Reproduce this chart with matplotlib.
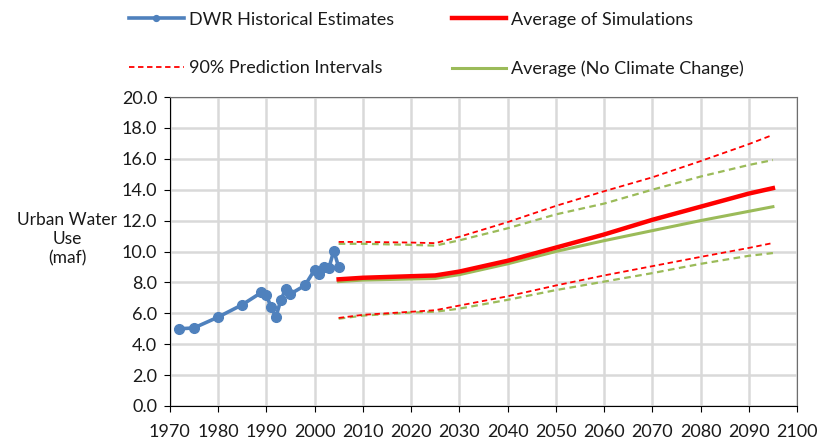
import matplotlib
matplotlib.use("Agg")
import matplotlib.pyplot as plt

# DWR historical estimates (maf)
hist_years = [1972, 1975, 1980, 1985, 1989, 1990, 1991, 1992, 1993, 1994, 1995,
              1998, 2000, 2001, 2002, 2003, 2004, 2005]
hist_use = [5.0, 5.05, 5.75, 6.55, 7.35, 7.2, 6.4, 5.75, 6.85, 7.55, 7.25,
            7.8, 8.8, 8.55, 9.0, 8.95, 10.05, 9.0]

# projections
proj_years = [2005, 2010, 2020, 2025, 2030, 2040, 2050, 2060, 2070, 2080, 2090, 2095]
avg_sim = [8.2, 8.3, 8.4, 8.45, 8.7, 9.4, 10.25, 11.1, 12.05, 12.9, 13.75, 14.1]
avg_nocc = [8.05, 8.15, 8.22, 8.25, 8.5, 9.2, 10.0, 10.7, 11.35, 12.0, 12.6, 12.9]
upper_sim = [10.62, 10.62, 10.58, 10.54, 10.95, 11.9, 12.95, 13.9, 14.8, 15.85, 16.95, 17.55]
lower_sim = [5.7, 5.9, 6.1, 6.2, 6.5, 7.1, 7.8, 8.45, 9.05, 9.65, 10.23, 10.55]
upper_nocc = [10.5, 10.5, 10.43, 10.38, 10.72, 11.5, 12.4, 13.1, 14.0, 14.85, 15.6, 15.92]
lower_nocc = [5.65, 5.85, 6.05, 6.1, 6.3, 6.87, 7.5, 8.05, 8.6, 9.2, 9.72, 9.9]

BLUE = "#4F81BD"
RED = "#FF0000"
GREEN = "#9BBB59"
TXT = "#1a1a1a"

plt.rcParams["font.family"] = ["Lato", "DejaVu Sans"]

fig = plt.figure(figsize=(8.2, 4.44), dpi=100)
ax = fig.add_axes([0.207, 0.0856, 0.765, 0.6959])

ax.plot(proj_years, upper_nocc, color=GREEN, lw=1.6, ls=(0, (3, 2)))
ax.plot(proj_years, lower_nocc, color=GREEN, lw=1.6, ls=(0, (3, 2)))
ax.plot(proj_years, upper_sim, color=RED, lw=1.3, ls=(0, (3, 2)))
ax.plot(proj_years, lower_sim, color=RED, lw=1.3, ls=(0, (3, 2)),
        label="90% Prediction Intervals")
ax.plot(proj_years, avg_nocc, color=GREEN, lw=2.2, label="Average (No Climate Change)")
ax.plot(proj_years, avg_sim, color=RED, lw=3.2, label="Average of Simulations")
ax.plot(hist_years, hist_use, color=BLUE, lw=2.6, marker="o", ms=7,
        label="DWR Historical Estimates")

ax.set_xlim(1970, 2100)
ax.set_ylim(0, 20)
ax.set_xticks(range(1970, 2101, 10))
ax.set_yticks(range(0, 21, 2))
ax.set_yticklabels([f"{v:.1f}" for v in range(0, 21, 2)])
ax.grid(True, color="#D9D9D9", lw=1.8)
ax.set_axisbelow(True)
ax.tick_params(labelsize=13, length=4, color="black", colors=TXT)
ax.tick_params(axis="x", pad=9)
ax.tick_params(axis="y", pad=5)

for s in ("top", "right"):
    ax.spines[s].set_color("#6e6e6e")
for s in ("left", "bottom"):
    ax.spines[s].set_color("black")

fig.text(0.082, 0.462, "Urban Water\nUse\n(maf)", ha="center", va="center",
         fontsize=12.5, color=TXT, linespacing=1.25)

h, l = ax.get_legend_handles_labels()
order = [3, 0, 2, 1]
leg = fig.legend([h[i] for i in order], [l[i] for i in order], ncol=2, frameon=False,
                 loc="upper left", bbox_to_anchor=(0.138, 1.01), fontsize=13,
                 handlelength=3.0, handletextpad=0.3, columnspacing=3.2,
                 labelspacing=1.8, markerscale=0.6)
for t in leg.get_texts():
    t.set_color(TXT)

fig.savefig("out.png", dpi=100)
